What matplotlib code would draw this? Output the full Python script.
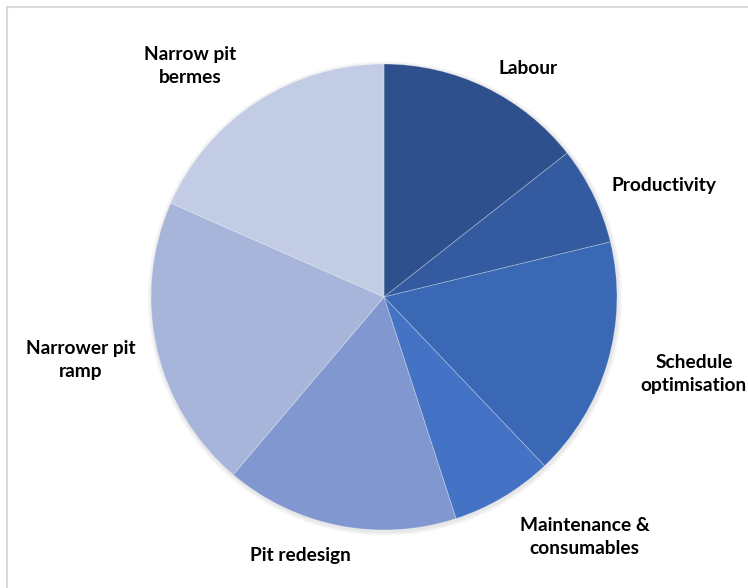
import matplotlib
matplotlib.use("Agg")
import matplotlib.pyplot as plt
from matplotlib.patches import Circle, Rectangle

# slice data, clockwise from 12 o'clock
categories = [
    "Labour",
    "Productivity",
    "Schedule\noptimisation",
    "Maintenance &\nconsumables",
    "Pit redesign",
    "Narrower pit\nramp",
    "Narrow pit\nbermes",
]
shares = [14.4, 6.8, 16.7, 7.1, 16.2, 20.4, 18.4]
colors = ["#2E508C", "#345AA0", "#3B68B4", "#4472C4", "#8097CF", "#A7B5DA", "#C2CCE5"]

# label anchor points in pie-radius units
label_pos = [
    (0.62, 0.98),
    (1.20, 0.48),
    (1.33, -0.33),
    (0.86, -1.03),
    (-0.36, -1.11),
    (-1.30, -0.27),
    (-0.83, 0.99),
]

W, H = 748, 588
CX, CY, R = 384, 297, 233

fig = plt.figure(figsize=(W / 100, H / 100), dpi=100)
ax = fig.add_axes([0, 0, 1, 1])
ax.axis("off")

# soft drop shadow
for i in range(3):
    ax.add_patch(Circle((0.004, -0.006), 1.0 + 0.006 * (i + 1), color="black",
                        alpha=0.03, lw=0, zorder=0))

ax.pie(
    shares,
    colors=colors,
    startangle=90,
    counterclock=False,
    radius=1.0,
    wedgeprops={"edgecolor": (1, 1, 1, 0.3), "linewidth": 0.6},
)
ax.set_xlim(-CX / R, (W - CX) / R)
ax.set_ylim(-(H - CY) / R, CY / R)
ax.set_aspect("equal")

for text, (x, y) in zip(categories, label_pos):
    ax.text(x, y, text, ha="center", va="center", fontsize=13.8,
            fontweight="bold", color="black", linespacing=1.45,
            family=["Lato", "DejaVu Sans"])

# chart frame (cropped on the right and bottom)
fig.patches.append(Rectangle((7 / W, -0.1), 1.2, 1 - 7 / H + 0.1,
                             transform=fig.transFigure, fill=False,
                             edgecolor="#D9D9D9", linewidth=1.5))

fig.savefig("out.png", dpi=100, facecolor="white")
